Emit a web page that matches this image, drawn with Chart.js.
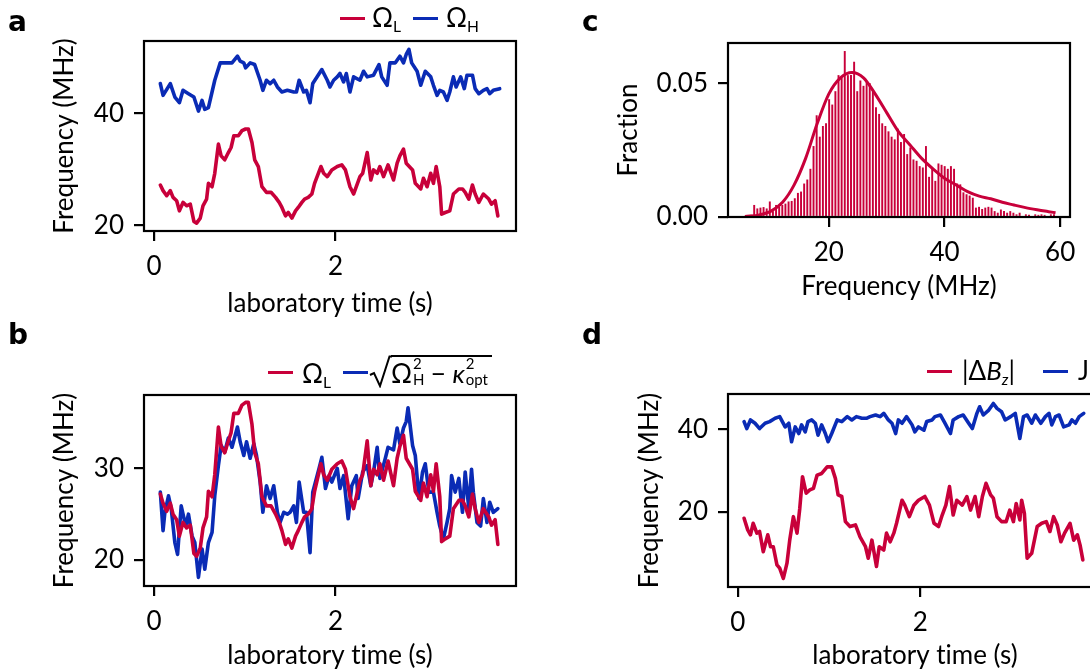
<!DOCTYPE html>
<html>
<head>
<meta charset="utf-8">
<script src="https://cdn.jsdelivr.net/npm/chart.js@4.4.1/dist/chart.umd.min.js"></script>
<style>
  body { margin: 0; background: #fff; }
  #fig { position: relative; width: 1090px; height: 672px; overflow: hidden;
         font-family: Lato, "DejaVu Sans", sans-serif; color: #000; }
  canvas { position: absolute; }
  .tag { position: absolute; font: bold 28px "DejaVu Sans", sans-serif; line-height: 1; }
  .leg { position: absolute; font-size: 26px; line-height: 1; white-space: nowrap; }
  .sw { position: absolute; width: 25px; height: 3px; }
  .leg sub { font-size: 0.6em; vertical-align: -0.3em; line-height: 0; }
  /* super/subscript pair stacked on the same column */
  .st { position: relative; display: inline-block; height: 1px; font-size: 15px; }
  .st span { position: absolute; left: 1px; line-height: 1; }
  .st .hi { bottom: 12px; }
  .st .lo { top: -10px; }
  .radicand { border-top: 2px solid #000; padding-top: 3px; padding-right: 2px; }
</style>
</head>
<body>
<div id="fig">
  <canvas id="panelA" width="560" height="336" style="left:0;top:0"></canvas>
  <canvas id="panelB" width="560" height="336" style="left:0;top:336px"></canvas>
  <canvas id="panelC" width="530" height="336" style="left:560px;top:0"></canvas>
  <canvas id="panelD" width="560" height="336" style="left:560px;top:336px"></canvas>

  <div class="tag" style="left:8px;top:8px">a</div>
  <div class="tag" style="left:8px;top:321px">b</div>
  <div class="tag" style="left:582px;top:8px">c</div>
  <div class="tag" style="left:582px;top:321px">d</div>

  <!-- legend a -->
  <div class="sw" style="left:340px;top:17px;background:#c8003a"></div>
  <div class="leg" style="left:372px;top:4px">Ω<sub>L</sub></div>
  <div class="sw" style="left:413px;top:17px;background:#0a2bb5"></div>
  <div class="leg" style="left:446px;top:4px">Ω<sub>H</sub></div>

  <!-- legend b -->
  <div class="sw" style="left:268px;top:371px;background:#c8003a"></div>
  <div class="leg" style="left:302px;top:360px">Ω<sub>L</sub></div>
  <div class="sw" style="left:343px;top:371px;background:#0a2bb5"></div>
  <svg style="position:absolute;left:369px;top:354px" width="23" height="34">
    <path d="M1 21 L5 19 L11 32 L20.5 2.5 L23 2.5" fill="none" stroke="#000" stroke-width="2"/>
  </svg>
  <div class="leg radicand" style="left:391px;top:355px">Ω<span class="st" style="width:12px"><span class="hi">2</span><span class="lo">H</span></span> − <i>κ</i><span class="st" style="width:25px"><span class="hi">2</span><span class="lo">opt</span></span></div>

  <!-- legend d -->
  <div class="sw" style="left:927px;top:370px;background:#c8003a"></div>
  <div class="leg" style="left:962px;top:357px">|Δ<i>B</i><sub><i>z</i></sub>|</div>
  <div class="sw" style="left:1043px;top:370px;background:#0a2bb5"></div>
  <div class="leg" style="left:1078px;top:357px">J</div>
</div>

<script>
// Ω_L trace (panels a and b), laboratory time in s, frequency in MHz
const tOmegaL = [0.07,0.10,0.14,0.18,0.21,0.25,0.28,0.32,0.36,0.40,0.44,0.47,0.51,0.54,0.58,0.60,0.64,0.67,0.71,0.74,
  0.78,0.82,0.85,0.88,0.93,0.97,1.01,1.04,1.08,1.11,1.15,1.19,1.24,1.29,1.34,1.38,1.41,1.45,1.48,1.52,
  1.56,1.59,1.63,1.66,1.70,1.74,1.77,1.84,1.87,1.91,1.96,2.02,2.07,2.11,2.16,2.20,2.23,2.27,2.30,2.35,
  2.39,2.42,2.46,2.49,2.53,2.58,2.64,2.68,2.71,2.75,2.78,2.85,2.88,2.94,2.97,3.01,3.05,3.08,3.11,3.15,
  3.17,3.21,3.26,3.30,3.36,3.40,3.43,3.47,3.51,3.54,3.58,3.63,3.69,3.72,3.76,3.79];
const omegaL = [27.2,26.2,25.3,26.2,25.0,24.4,22.6,24.1,23.5,23.8,20.7,20.4,21.3,23.5,24.7,27.5,26.9,29.3,34.5,32.4,
  31.7,33.0,33.9,36.0,36.0,36.9,37.2,37.2,34.8,31.7,30.5,26.9,25.9,25.9,25.0,24.1,23.2,21.7,22.3,21.3,
  22.6,23.2,24.1,24.7,25.0,25.6,27.5,30.5,29.3,28.7,29.9,30.5,30.8,29.9,26.9,25.6,26.9,28.7,29.3,33.0,
  28.1,29.9,29.3,30.5,28.7,30.8,28.1,31.1,32.4,33.6,31.1,29.9,27.5,26.5,28.4,26.9,29.3,27.5,30.5,26.9,
  22.0,22.3,22.6,25.6,26.5,26.5,25.9,24.7,27.2,25.6,24.1,25.6,24.7,23.8,24.4,21.7];

// Ω_H trace (panel a)
const tOmegaH = [0.07,0.10,0.18,0.23,0.28,0.32,0.38,0.44,0.49,0.53,0.56,0.60,0.64,0.67,0.73,0.80,0.86,0.92,0.95,0.99,
  1.01,1.06,1.11,1.17,1.20,1.24,1.28,1.32,1.36,1.41,1.47,1.54,1.57,1.60,1.65,1.68,1.72,1.75,1.85,1.91,
  1.94,1.98,2.02,2.05,2.09,2.12,2.16,2.20,2.27,2.31,2.35,2.42,2.48,2.51,2.57,2.60,2.66,2.71,2.75,2.78,
  2.81,2.84,2.90,2.94,2.99,3.05,3.08,3.12,3.15,3.19,3.23,3.26,3.30,3.33,3.38,3.42,3.45,3.51,3.54,3.58,
  3.63,3.67,3.70,3.74,3.81];
const omegaH = [45.3,43.2,45.3,42.9,41.9,44.1,43.5,42.9,40.4,42.3,40.7,41.0,43.8,45.9,49.0,49.0,49.0,50.2,49.3,49.0,
  48.1,49.0,48.7,45.9,44.1,45.9,45.3,45.9,44.7,43.8,44.1,43.8,43.8,45.9,43.8,44.1,41.9,45.3,47.8,45.9,
  44.7,45.9,46.5,47.1,45.6,47.1,43.8,46.5,45.9,47.5,46.5,46.8,48.7,46.5,45.0,49.0,49.0,50.2,49.0,50.5,
  51.4,49.0,47.5,45.0,47.5,46.5,45.0,43.2,44.1,43.8,42.3,43.8,46.5,44.7,46.5,44.4,46.8,46.8,44.4,43.5,
  44.1,44.4,43.5,44.1,44.4];

// sqrt(Ω_H² − κ_opt²) trace (panel b)
const tRoot = [0.07,0.10,0.12,0.16,0.19,0.23,0.26,0.30,0.35,0.38,0.42,0.45,0.49,0.53,0.56,0.60,0.64,0.67,0.71,0.74,
  0.78,0.82,0.86,0.92,0.95,0.99,1.02,1.06,1.10,1.13,1.17,1.20,1.24,1.28,1.32,1.36,1.39,1.43,1.47,1.50,
  1.54,1.57,1.60,1.65,1.68,1.72,1.75,1.82,1.85,1.89,1.93,1.96,2.02,2.05,2.09,2.14,2.18,2.23,2.25,2.30,
  2.35,2.39,2.42,2.46,2.49,2.55,2.58,2.64,2.68,2.71,2.75,2.78,2.80,2.85,2.88,2.92,2.96,2.99,3.03,3.08,
  3.12,3.15,3.19,3.23,3.26,3.28,3.32,3.36,3.40,3.43,3.47,3.50,3.52,3.56,3.60,3.63,3.67,3.70,3.74,3.79];
const rootFreq = [27.4,23.2,25.2,27.0,25.6,21.9,20.6,25.9,23.7,25.0,22.6,21.9,18.1,21.2,19.0,21.9,23.0,27.0,30.3,32.5,
  31.8,33.3,32.3,34.5,32.9,31.4,32.9,31.1,32.7,31.4,28.5,25.2,28.1,26.7,28.1,25.2,24.1,25.2,25.0,25.2,
  25.9,24.1,28.5,25.2,25.2,20.8,27.4,30.0,31.2,27.8,29.2,28.5,30.0,27.8,29.2,24.5,28.1,29.2,26.7,29.6,
  30.3,28.1,29.6,32.3,28.9,31.1,32.3,32.0,34.4,32.7,34.4,35.1,36.6,32.5,31.4,26.7,29.6,30.5,27.4,27.4,
  25.2,23.7,22.3,24.1,25.6,29.2,27.4,28.9,25.2,29.6,25.6,29.9,27.4,24.1,23.7,26.7,24.1,26.3,25.2,25.6];

// |ΔB_z| trace (panel d)
const tDeltaB = [0.07,0.11,0.14,0.17,0.21,0.24,0.28,0.33,0.36,0.39,0.43,0.46,0.50,0.54,0.57,0.61,0.65,0.68,0.71,0.75,
  0.79,0.83,0.87,0.92,0.98,1.03,1.07,1.10,1.14,1.18,1.23,1.29,1.34,1.40,1.43,1.47,1.52,1.55,1.60,1.63,
  1.67,1.71,1.74,1.80,1.83,1.88,1.93,1.98,2.05,2.10,2.15,2.20,2.24,2.28,2.32,2.36,2.40,2.46,2.51,2.55,
  2.60,2.64,2.68,2.72,2.77,2.80,2.84,2.89,2.94,2.98,3.02,3.05,3.09,3.11,3.14,3.17,3.22,3.28,3.33,3.38,
  3.42,3.46,3.50,3.54,3.58,3.64,3.68,3.72,3.75,3.78];
const deltaBz = [18.4,15.6,14.4,17.2,14.8,15.2,10.3,14.4,11.5,11.5,7.1,6.3,3.8,7.5,13.1,18.8,14.8,20.8,28.5,24.5,
  25.3,25.7,28.9,29.3,30.9,30.9,28.1,24.1,23.7,17.6,16.4,16.8,13.9,11.5,8.7,13.1,6.7,11.5,10.7,14.8,
  12.7,14.8,17.2,22.8,21.6,18.8,21.6,22.8,23.7,21.6,17.2,16.4,19.2,21.6,26.1,19.2,22.8,21.6,23.7,20.4,
  23.7,18.8,23.7,26.9,24.1,23.3,18.8,17.6,17.6,20.4,17.6,22.0,18.0,22.8,19.6,8.7,9.9,16.4,17.2,17.6,
  15.2,18.8,16.8,12.7,14.8,17.2,13.1,14.4,11.9,8.3];

// J trace (panel d)
const tCoupling = [0.07,0.10,0.14,0.19,0.24,0.30,0.35,0.41,0.46,0.52,0.56,0.59,0.63,0.67,0.70,0.74,0.77,0.81,0.85,0.88,
  0.92,0.96,0.99,1.03,1.09,1.14,1.20,1.25,1.30,1.36,1.41,1.45,1.51,1.56,1.60,1.65,1.69,1.73,1.76,1.80,
  1.85,1.91,1.94,1.98,2.04,2.07,2.13,2.16,2.22,2.27,2.33,2.36,2.42,2.47,2.53,2.57,2.62,2.65,2.69,2.75,
  2.80,2.84,2.89,2.93,2.99,3.04,3.09,3.13,3.17,3.22,3.26,3.32,3.37,3.41,3.44,3.48,3.52,3.57,3.63,3.66,
  3.70,3.74,3.79];
const coupling = [41.9,40.2,42.3,41.5,40.2,41.5,41.9,42.7,43.1,40.6,41.5,37.0,40.6,39.0,41.1,39.4,41.9,42.3,41.5,38.6,
  41.1,39.0,37.0,39.0,42.3,41.9,43.1,42.3,43.1,42.7,42.7,43.1,43.5,43.1,43.9,42.3,41.5,39.0,42.3,41.5,
  43.1,41.1,39.4,40.6,39.8,41.9,42.3,43.1,43.5,41.5,39.0,42.3,43.1,43.5,41.5,40.2,43.9,45.5,43.5,44.7,
  46.3,45.1,44.3,42.3,43.1,43.9,37.8,43.1,43.5,41.5,43.5,41.5,43.1,43.9,41.1,43.1,43.5,40.6,41.1,42.3,
  41.5,43.1,43.9];

// frequency histogram (panel c): fraction per 0.54 MHz bin starting at 5.2 MHz
const HIST_FIRST_EDGE = 5.2;
const HIST_BIN_WIDTH = 0.54;
const histFraction = [0.0002,0.0004,0.0008,0.0045,0.0032,0.0035,0.0037,0.0032,0.0058,0.0022,
  0.0045,0.0038,0.0045,0.0050,0.0058,0.0060,0.0070,0.0090,0.0095,0.0125,
  0.0140,0.0180,0.0265,0.0380,0.0300,0.0340,0.0350,0.0440,0.0420,0.0470,
  0.0530,0.0520,0.0620,0.0530,0.0530,0.0580,0.0470,0.0510,0.0490,0.0505,
  0.0500,0.0470,0.0410,0.0385,0.0350,0.0340,0.0320,0.0300,0.0290,0.0330,
  0.0280,0.0310,0.0235,0.0260,0.0215,0.0210,0.0190,0.0185,0.0265,0.0150,
  0.0185,0.0135,0.0200,0.0195,0.0190,0.0180,0.0190,0.0180,0.0125,0.0122,
  0.0092,0.0085,0.0080,0.0072,0.0035,0.0038,0.0030,0.0035,0.0038,0.0035,
  0.0022,0.0016,0.0028,0.0022,0.0016,0.0022,0.0016,0.0010,0.0016,0.0004,
  0.0010,0.0008,0.0004,0.0010,0.0008,0.0010,0.0008,0.0004,0.0010,0.0010];

// fitted distribution drawn over the histogram
const fitFreq = [5.5,8,10,12,14,16,18,20,22,24,26,28,30,32,34,36,38,40,42,44,46,48,50,52,54,56,58,59.2];
const fitFraction = [0.0002,0.0008,0.0022,0.0055,0.012,0.022,0.035,0.046,0.052,0.054,0.052,0.046,0.039,0.032,
  0.027,0.022,0.018,0.0145,0.012,0.0095,0.0078,0.0068,0.0055,0.0045,0.0035,0.0027,0.002,0.0016];

// tick positions
const timeTicks = [0, 2];
const freqTicksA = [20, 40];
const freqTicksB = [20, 30];
const freqTicksD = [20, 40];
const histFreqTicks = [20, 40, 60];
const fractionTicks = [0, 0.05];

const RED = "#c8003a";
const BLUE = "#0a2bb5";
const FONT = { family: "Lato, 'DejaVu Sans', sans-serif", size: 26, lineHeight: 1.2 };

const pairs = (xs, ys) => xs.map((x, i) => ({ x, y: ys[i] }));

// black box around the plotting area, drawn above the data;
// also turns off canvas ligatures so "ti" is not fused in the axis titles
const framePlugin = {
  id: "frame",
  beforeDraw(chart) {
    chart.ctx.textRendering = "optimizeSpeed";
  },
  afterDatasetsDraw(chart) {
    const { ctx, chartArea: { left, top, right, bottom } } = chart;
    ctx.save();
    ctx.strokeStyle = "#000";
    ctx.lineWidth = 2.2;
    ctx.strokeRect(left, top, right - left, bottom - top);
    ctx.restore();
  }
};

function axis({ min, max, ticks, size, vertical, title, titlePad, fmt }) {
  return {
    type: "linear",
    min, max,
    offset: false,
    border: { display: false },
    grid: { display: true, offset: false, drawOnChartArea: false, drawTicks: true,
            tickLength: 10, lineWidth: 2.2, tickWidth: 2.2, tickColor: "#000" },
    ticks: { color: "#000", font: FONT, padding: 10, maxRotation: 0, autoSkip: false,
             callback: fmt || (v => String(v)) },
    afterBuildTicks: s => { s.ticks = ticks.map(v => ({ value: v })) },
    afterFit: s => { if (vertical) s.width = size; else s.height = size },
    title: { display: true, text: title, color: "#000", font: FONT, padding: titlePad }
  }
}

function lineSet(xs, ys, color) {
  return { type: "line", data: pairs(xs, ys), borderColor: color, borderWidth: 3.6,
           pointRadius: 0, tension: 0, borderJoinStyle: "round", borderCapStyle: "round" };
}

function makeChart(id, type, datasets, pad, xScale, yScale) {
  return new Chart(document.getElementById(id), {
    type,
    data: { datasets },
    options: {
      responsive: false,
      animation: false,
      devicePixelRatio: 1,
      layout: { padding: pad },
      plugins: { legend: { display: false }, tooltip: { enabled: false } },
      scales: { x: xScale, y: yScale }
    },
    plugins: [framePlugin]
  });
}

// a: Ω_L and Ω_H against laboratory time
makeChart("panelA", "line",
  [lineSet(tOmegaL, omegaL, RED), lineSet(tOmegaH, omegaH, BLUE)],
  { top: 41, right: 44, left: 0, bottom: 0 },
  axis({ min: -0.11, max: 3.99, ticks: timeTicks, size: 105, title: "laboratory time (s)",
         titlePad: { top: 0, bottom: 17 } }),
  axis({ min: 19.0, max: 52.9, ticks: freqTicksA, size: 144, vertical: true, title: "Frequency (MHz)",
         titlePad: { top: 49, bottom: 0 } }));

// b: Ω_L against the shifted Ω_H
makeChart("panelB", "line",
  [lineSet(tOmegaL, omegaL, RED), lineSet(tRoot, rootFreq, BLUE)],
  { top: 59, right: 44, left: 0, bottom: 0 },
  axis({ min: -0.11, max: 3.99, ticks: timeTicks, size: 86, title: "laboratory time (s)",
         titlePad: { top: 0, bottom: 1 } }),
  axis({ min: 17.16, max: 38.0, ticks: freqTicksB, size: 144, vertical: true, title: "Frequency (MHz)",
         titlePad: { top: 49, bottom: 0 } }));

// c: histogram of Ω_L with fitted curve
makeChart("panelC", "bar",
  [
    { type: "line", data: pairs(fitFreq, fitFraction), borderColor: RED, borderWidth: 3,
      pointRadius: 0, cubicInterpolationMode: "monotone" },
    { type: "bar",
      data: histFraction.map((f, i) => ({ x: HIST_FIRST_EDGE + (i + 0.5) * HIST_BIN_WIDTH, y: f })),
      backgroundColor: RED, borderWidth: 0, barPercentage: 0.62, categoryPercentage: 1.0 }
  ],
  { top: 43, right: 20, left: 0, bottom: 0 },
  axis({ min: 2.56, max: 61.7, ticks: histFreqTicks, size: 119, title: "Frequency (MHz)",
         titlePad: { top: 0, bottom: 34 } }),
  axis({ min: 0, max: 0.065, ticks: fractionTicks, size: 168, vertical: true, title: "Fraction",
         titlePad: { top: 53, bottom: 0 }, fmt: v => v.toFixed(2) }));

// d: |ΔB_z| and J against laboratory time
makeChart("panelD", "line",
  [lineSet(tDeltaB, deltaBz, RED), lineSet(tCoupling, coupling, BLUE)],
  { top: 58, right: 18, left: 0, bottom: 0 },
  axis({ min: -0.106, max: 3.99, ticks: timeTicks, size: 85, title: "laboratory time (s)",
         titlePad: { top: 0, bottom: 1 } }),
  axis({ min: 1.72, max: 48.6, ticks: freqTicksD, size: 168, vertical: true, title: "Frequency (MHz)",
         titlePad: { top: 74, bottom: 0 } }));
</script>
</body>
</html>
